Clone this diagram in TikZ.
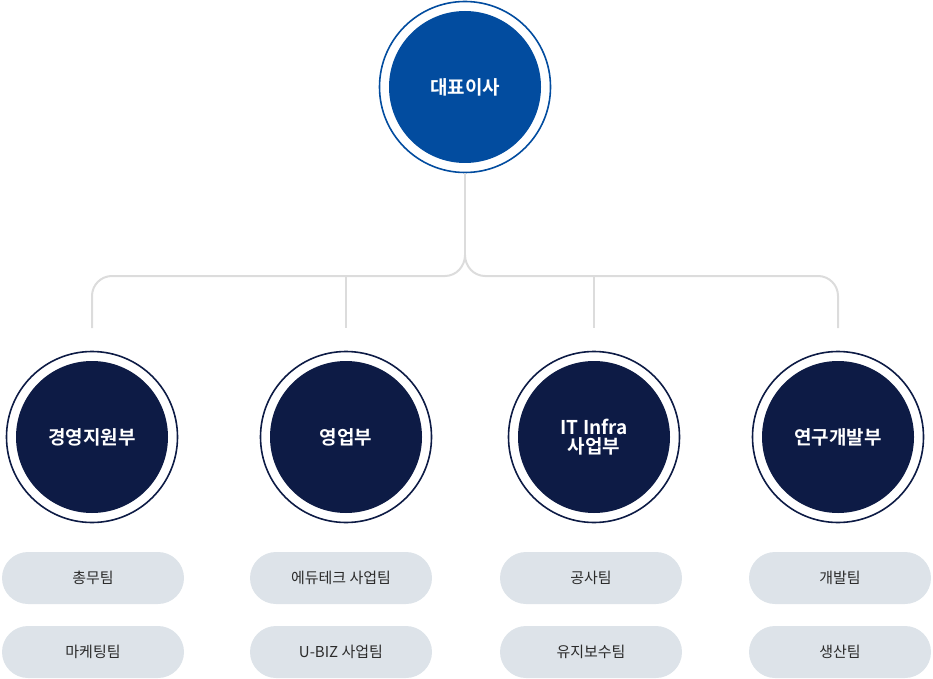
\documentclass[tikz,border=0pt]{standalone}
\usepackage{fontspec}
\setmainfont{Noto Sans CJK KR}
\newfontfamily\kb{Noto Sans CJK KR Bold}
\begin{document}
\begin{tikzpicture}[x=1pt,y=-1pt,
  ring/.style={circle,draw=#1,line width=1.6pt,fill=white,minimum size=171pt,inner sep=0pt},
  core/.style={circle,fill=#1,minimum size=152pt,inner sep=0pt,text=white,font=\kb\fontsize{19}{22}\selectfont,align=center},
  pill/.style={rounded corners=26pt,fill=pillc,minimum width=182pt,minimum height=52pt,inner sep=0pt,text=txt,font=\fontsize{15}{18}\selectfont},
  conn/.style={draw=linec,line width=2pt}]
\definecolor{topc}{HTML}{024C9F}
\definecolor{depc}{HTML}{0D1B45}
\definecolor{pillc}{HTML}{DDE3E9}
\definecolor{linec}{HTML}{DCDCDC}
\definecolor{txt}{HTML}{2B2B2B}
\useasboundingbox (0,0) rectangle (933,679);
\node[ring=topc] (ceoR) at (465,87) {};
\node[core=topc] (ceo) at (465,87) {대표이사};
\foreach \n/\x/\t in {d1/92/경영지원부,d2/346/영업부,d3/594/{IT Infra\\[-3pt]사업부},d4/838/연구개발부}{
  \node[ring=depc] (\n R) at (\x,437) {};
  \node[core=depc] (\n) at (\x,437) {\t};
}
\coordinate (j) at (465,255);
\coordinate (a1) at (92,328); \coordinate (a2) at (346,328);
\coordinate (a3) at (594,328); \coordinate (a4) at (838,328);
\draw[conn] (ceoR.south) -- (j);
\draw[conn] (j) to[out=-90,in=0] (445,276) -- (112,276) to[out=180,in=90] (92,296) -- (a1);
\draw[conn] (j) to[out=-90,in=180] (485,276) -- (818,276) to[out=0,in=90] (838,296) -- (a4);
\draw[conn] (346,276) -- (a2);
\draw[conn] (594,276) -- (a3);
\foreach \n/\x/\a/\b in {p1/93/총무팀/마케팅팀,p2/341/에듀테크 사업팀/U-BIZ 사업팀,p3/591/공사팀/유지보수팀,p4/840/개발팀/생산팀}{
  \node[pill] (\n a) at (\x,578) {\a};
  \node[pill] (\n b) at (\x,652) {\b};
}
\end{tikzpicture}
\end{document}
